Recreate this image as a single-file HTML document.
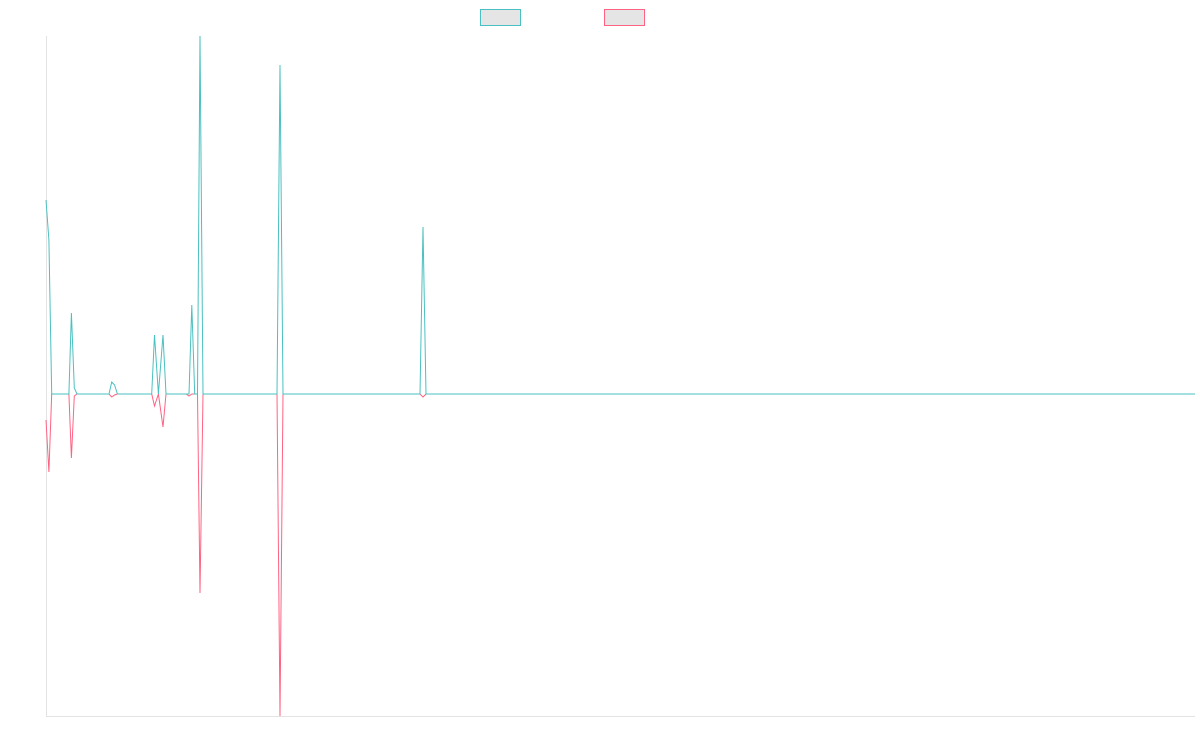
<!DOCTYPE html>
<html><head><style>body{margin:0;background:#fff}svg{display:block}</style></head><body>
<svg width="1200" height="750" xmlns="http://www.w3.org/2000/svg">
<line x1="46.5" y1="36" x2="46.5" y2="716" stroke="#e3e3e3" stroke-width="1"/>
<line x1="46" y1="716.5" x2="1195" y2="716.5" stroke="#e3e3e3" stroke-width="1"/>
<rect x="480.5" y="9.5" width="40" height="16" fill="#e5e5e5" stroke="#4bc0c0" stroke-width="1"/>
<rect x="604.5" y="9.5" width="40" height="16" fill="#e5e5e5" stroke="#ff6384" stroke-width="1"/>
<polyline fill="none" stroke="#ff6384" stroke-width="1" points="46,420 48.9,472 51.7,394 68.9,394 71.4,458 74.3,396 77,394 109,394 111.7,397 114.6,395 117.4,394 151.7,394 154.5,406 158.4,394 163,427 166,394 186,394 189,396 191.8,394 197.5,394 200,593 203,394 277,394 280,716 283,394 420,394 423,397 426,394 1195,394"/>
<polyline fill="none" stroke="#4bc0c0" stroke-width="1" points="46,200 48.9,240 51.7,394 68.9,394 71.4,313 74.3,388 77,394 109,394 111.7,382 114.6,385 117.4,394 151.7,394 154.5,335 158.4,394 163,335 166,394 189,394 191.8,305 194.7,394 197.5,394 200,36 203,394 277,394 280,65 283,394 420,394 423,227 426,394 1195,394"/>
</svg>
</body></html>
